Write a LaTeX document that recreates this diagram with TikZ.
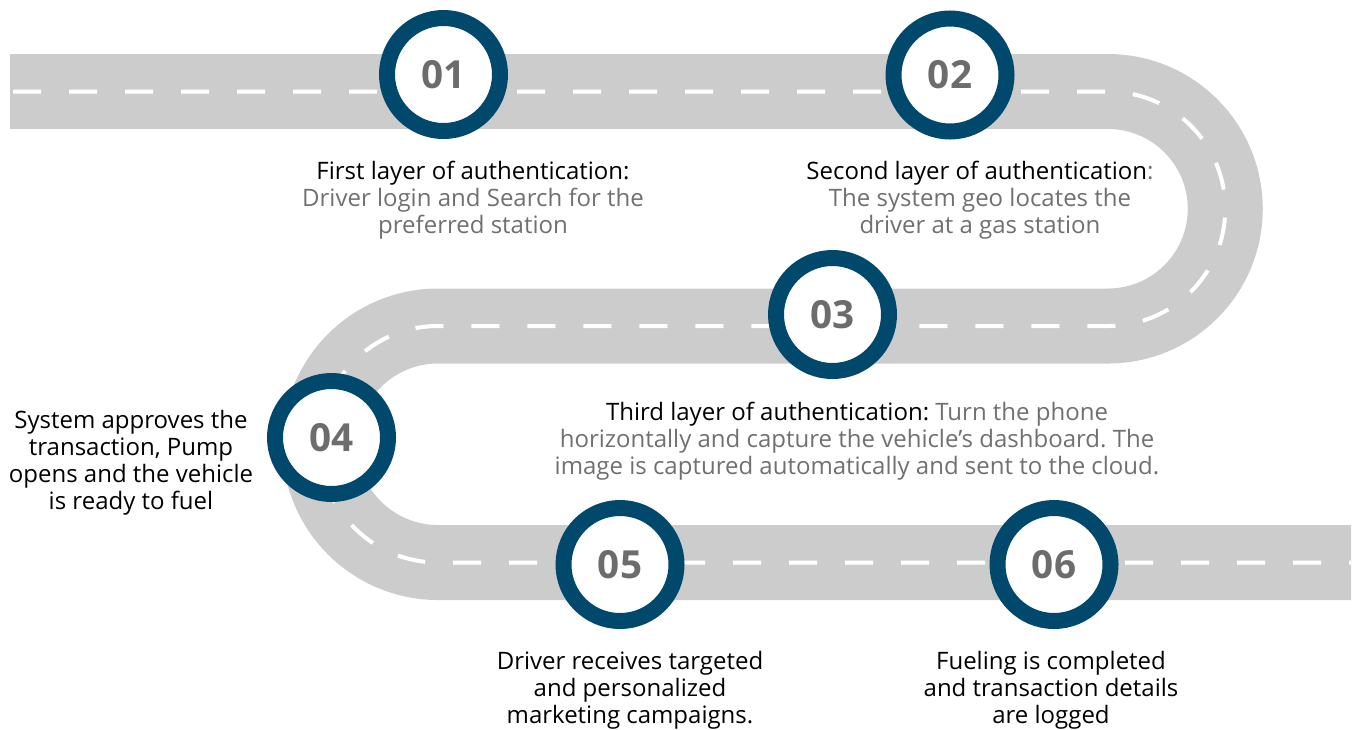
\documentclass[tikz,border=0pt]{standalone}
\usepackage{fontspec}
\setmainfont{Open Sans}
\usepackage{xcolor}
\definecolor{roadgray}{RGB}{204,204,204}
\definecolor{ringblue}{RGB}{0,73,108}
\definecolor{numgray}{RGB}{108,108,108}
\definecolor{txtgray}{RGB}{112,112,112}
\frenchspacing

\begin{document}
\begin{tikzpicture}[x=0.75pt,y=-0.75pt]
\tikzstyle{stop}=[circle, draw=ringblue, line width=12pt, fill=white, minimum size=84.75pt, inner sep=0pt, text=numgray, font=\fontsize{29}{30}\selectfont\bfseries]
\tikzstyle{note}=[align=center, inner sep=0pt, font=\fontsize{18}{20.25}\selectfont]
\tikzstyle{road}=[line width=56.25pt, draw=roadgray]
\tikzstyle{lane}=[line width=3pt, draw=white, dash pattern=on 21pt off 21pt]
\useasboundingbox (0,0) rectangle (1359,729);
\coordinate (roadstart) at (10,91.5);
\coordinate (lanestart) at (13,91.5);
\coordinate (turnright) at (1108,91.5);
\coordinate (turnleft) at (438,326);
\coordinate (roadend) at (1351,562.5);
\draw[road] (roadstart) -- (turnright) arc[start angle=90, end angle=-90, radius=87.94pt]
  -- (turnleft) arc[start angle=90, end angle=270, radius=88.69pt] -- (roadend);
\draw[lane] (lanestart) -- (turnright) arc[start angle=90, end angle=-90, radius=87.94pt]
  -- (turnleft) arc[start angle=90, end angle=270, radius=88.69pt] -- (roadend);

\node[stop] (s01) at (443.5,74.5) {01};
\node[stop] (s02) at (950,75) {02};
\node[stop] (s03) at (832.5,314.5) {03};
\node[stop] (s04) at (331.5,437.5) {04};
\node[stop] (s05) at (620,564.5) {05};
\node[stop] (s06) at (1054,564.5) {06};

\node[note] (t01) at (473,200) {First layer of authentication:\\
  \textcolor{txtgray}{Driver login and Search for the}\\
  \textcolor{txtgray}{preferred station}};
\node[note] (t02) at (980,200) {Second layer of authentication\textcolor{txtgray}{:}\\
  \textcolor{txtgray}{The system geo locates the}\\
  \textcolor{txtgray}{driver at a gas station}};
\node[note] (t03) at (857,441) {Third layer of authentication: \textcolor{txtgray}{Turn the phone}\\
  \textcolor{txtgray}{horizontally and capture the vehicle’s dashboard. The}\\
  \textcolor{txtgray}{image is captured automatically and sent to the cloud.}};
\node[note] (t04) at (131,462.5) {System approves the\\ transaction, Pump\\ opens and the vehicle\\ is ready to fuel};
\node[note] (t05) at (630,690) {Driver receives targeted\\ and personalized\\ marketing campaigns.};
\node[note] (t06) at (1051,690) {Fueling is completed\\ and transaction details\\ are logged};

\end{tikzpicture}
\end{document}
